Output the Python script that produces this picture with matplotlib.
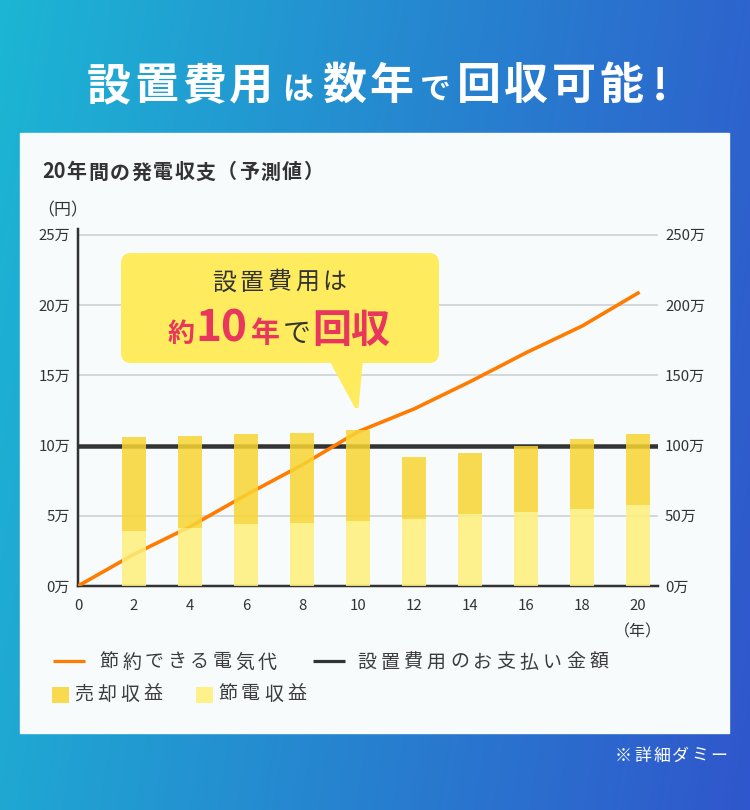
import matplotlib
matplotlib.use("Agg")
import matplotlib.pyplot as plt
import numpy as np
from matplotlib.patches import Rectangle, FancyBboxPatch, Polygon

plt.rcParams['font.family'] = ['Noto Sans CJK JP', 'DejaVu Sans']

# data (万円)
years = [2, 4, 6, 8, 10, 12, 14, 16, 18, 20]
saving_rev = [3.9, 4.1, 4.4, 4.5, 4.6, 4.8, 5.1, 5.3, 5.5, 5.8]      # 節電収益
sale_rev = [6.7, 6.6, 6.4, 6.4, 6.5, 4.35, 4.4, 4.65, 4.95, 5.0]     # 売却収益
line_years = [0, 2, 4, 6, 8, 10, 12, 14, 16, 18, 20]
elec_saved = [0, 2.26, 4.22, 6.48, 8.61, 10.98, 12.6, 14.54, 16.6, 18.5, 20.85]
install_cost = 10
left_ticks = [0, 5, 10, 15, 20, 25]
right_ticks = [0, 50, 100, 150, 200, 250]

W, H = 750, 810
def pt(p):
    return p * 0.72

fig = plt.figure(figsize=(7.5, 8.1), dpi=100)

# background gradient + card
bg = fig.add_axes([0, 0, 1, 1], zorder=0)
bg.set_xlim(0, W); bg.set_ylim(H, 0); bg.axis('off')
gx, gy = np.meshgrid(np.linspace(0, 1, 300), np.linspace(0, 1, 300))
t = np.clip(0.85 * gx + 0.15 * gy, 0, 1)
c0 = np.array([0x1c, 0xb6, 0xd4]) / 255
c1 = np.array([0x30, 0x56, 0xcc]) / 255
img = c0[None, None, :] * (1 - t[..., None]) + c1[None, None, :] * t[..., None]
bg.imshow(img, extent=[0, W, H, 0], aspect='auto')
bg.add_patch(Rectangle((20, 133), 709, 600, color='#f7fbfc', zorder=2))

# main chart
x0, x1, y0, y1 = 78, 658, 586, 229
ax = fig.add_axes([x0 / W, 1 - y0 / H, (x1 - x0) / W, (y0 - y1) / H], zorder=2)
ax.set_facecolor('none')
ax.set_xlim(0, (x1 - x0) / 28)
ax.set_ylim(0, (y0 - y1) / 14.05)
for v in left_ticks[1:]:
    ax.axhline(v, color='#cdd0d2', lw=pt(1.6), zorder=1)
ax.axhline(install_cost, color='#333333', lw=pt(4.5), zorder=2)
ax.plot(line_years, elec_saved, color='#ff7c00', lw=pt(3.6), zorder=3,
        solid_joinstyle='round')
ax.bar(years, saving_rev, width=0.86, color='#fff07a', alpha=0.85, zorder=4)
ax.bar(years, sale_rev, bottom=saving_rev, width=0.86, color='#f9d532',
       alpha=0.85, zorder=4)

for s in ['top', 'right']:
    ax.spines[s].set_visible(False)
ax.spines['left'].set_color('#333333'); ax.spines['left'].set_linewidth(pt(2.5))
ax.spines['bottom'].set_color('#333333'); ax.spines['bottom'].set_linewidth(pt(2.5))
ax.set_yticks(left_ticks)
ax.set_yticklabels([f'{v}万' for v in left_ticks])
ax.set_xticks([0] + years)
ax.set_xticklabels([str(v) for v in [0] + years])
ax.tick_params(axis='y', length=0, pad=pt(8), labelsize=pt(15), labelcolor='#333333')
ax.tick_params(axis='x', length=0, pad=pt(13), labelsize=pt(15), labelcolor='#333333')

ax2 = ax.twinx()
ax2.set_ylim(0, ax.get_ylim()[1] * 10)
ax2.set_yticks(right_ticks)
ax2.set_yticklabels([f'{v}万' for v in right_ticks])
ax2.tick_params(axis='y', length=0, pad=pt(7), labelsize=pt(15), labelcolor='#333333')
for s in ax2.spines.values():
    s.set_visible(False)

# overlay for texts, callout, legend
ov = fig.add_axes([0, 0, 1, 1], zorder=5)
ov.set_xlim(0, W); ov.set_ylim(H, 0); ov.axis('off')

def spaced(x, y, s, size, pitch, **kw):
    for i, ch in enumerate(s):
        ov.text(x + pitch / 2 + i * pitch, y, ch, fontsize=pt(size),
                ha='center', va='center', **kw)

# title
cur = 85
for s, size, pitch in [("設置費用", 44, 47.5), ("は", 31, 45), ("数年", 44, 47.5),
                       ("で", 31, 40), ("回収可能", 44, 47.5), ("!", 44, 30)]:
    for ch in s:
        ov.text(cur + pitch / 2, 99, ch, fontsize=pt(size), ha='center',
                va='baseline', color='white', fontweight='bold')
        cur += pitch

ov.text(42, 172, "20", fontsize=pt(20), fontweight='bold', color='#333333',
        ha='left', va='center')
spaced(66, 172, "年間の発電収支（予測値）", 20, 21.5, fontweight='bold', color='#333333')
ov.text(37, 210, "（円）", fontsize=pt(17), color='#333333', ha='left', va='center')
ov.text(638, 632, "（年）", fontsize=pt(16), color='#333333', ha='center', va='center')

# callout
ov.add_patch(FancyBboxPatch((131, 263), 298, 90, boxstyle='round,pad=10,rounding_size=10',
                            color='#ffec5e', lw=0))
ov.add_patch(Polygon([(329, 360), (363, 360), (358.5, 408), (355, 408)],
                     closed=True, color='#ffec5e', lw=0, joinstyle='round'))
spaced(210, 283, "設置費用は", 24, 27.7, color='#333333')
red = '#e8365d'
ov.text(181, 342, "約", fontsize=pt(27), color=red, ha='center', va='baseline',
        fontweight='bold')
ov.text(221, 342, "10", fontsize=pt(44), color=red, ha='center', va='baseline',
        fontweight='bold')
ov.text(265, 342, "年", fontsize=pt(29), color=red, ha='center', va='baseline',
        fontweight='bold')
ov.text(297, 342, "で", fontsize=pt(28), color='#333333', ha='center', va='baseline')
ov.text(351, 342, "回収", fontsize=pt(39), color=red, ha='center', va='baseline',
        fontweight='bold')

# legend
lg = '#3c3c3c'
ov.plot([53, 85], [661, 661], color='#ff7c00', lw=pt(3.2), solid_capstyle='butt')
spaced(98, 662, "節約できる電気代", 19, 22.6, color=lg)
ov.plot([313, 345], [661, 661], color='#333333', lw=pt(3.2), solid_capstyle='butt')
spaced(355, 662, "設置費用のお支払い金額", 19, 23.2, color=lg)
ov.add_patch(Rectangle((52, 686.5), 16.5, 16.5, color='#f9d94e', lw=0))
spaced(72, 694, "売却収益", 19, 23, color=lg)
ov.add_patch(Rectangle((196, 686.5), 16.5, 16.5, color='#fff18a', lw=0))
spaced(216, 694, "節電収益", 19, 23, color=lg)

spaced(614, 756, "※詳細ダミー", 17, 19, color='white')

fig.savefig('out.png', dpi=100)
